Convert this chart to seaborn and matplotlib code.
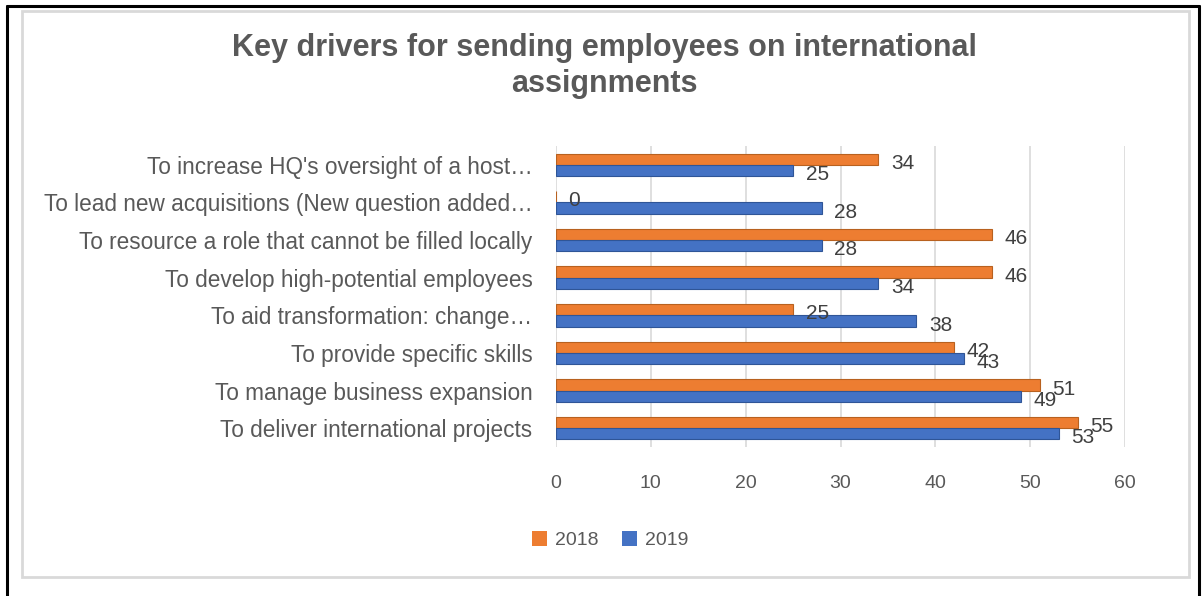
import matplotlib
matplotlib.use("Agg")
import matplotlib.pyplot as plt
import seaborn as sns
import pandas as pd
from matplotlib.patches import Rectangle, Patch
from matplotlib.lines import Line2D

categories = [
    "To increase HQ's oversight of a host\u2026",
    "To lead new acquisitions (New question added\u2026",
    "To resource a role that cannot be filled locally",
    "To develop high-potential employees",
    "To aid transformation: change\u2026",
    "To provide specific skills",
    "To manage business expansion",
    "To deliver international projects",
]
values_2018 = [34, 0, 46, 46, 25, 42, 51, 55]
values_2019 = [25, 28, 28, 34, 38, 43, 49, 53]
series = ["2018", "2019"]
x_ticks = [0, 10, 20, 30, 40, 50, 60]
title = "Key drivers for sending employees on international\nassignments"

df = pd.DataFrame({
    "category": categories * 2,
    "value": values_2018 + values_2019,
    "year": [series[0]] * len(categories) + [series[1]] * len(categories),
})

sns.set_theme(style="white")
plt.rcParams["font.family"] = ["Liberation Sans", "DejaVu Sans"]

colors = {"2018": "#ED7D31", "2019": "#4472C4"}
edges = {"2018": "#B8611F", "2019": "#2F5597"}
text_color = "#595959"

fig = plt.figure(figsize=(12.02, 5.96), dpi=100)
ax = fig.add_axes([556 / 1202, 1 - 447 / 596, (1125 - 556) / 1202, (447 - 146) / 596])

sns.barplot(data=df, x="value", y="category", hue="year", hue_order=series,
            palette=colors, order=categories, orient="h", width=0.6,
            ax=ax, legend=False, saturation=1)

for container, yr in zip(ax.containers, series):
    for bar in container:
        bar.set_edgecolor(edges[yr])
        bar.set_linewidth(0.8)
    anns = ax.bar_label(container, labels=[f"{v:g}" for v in container.datavalues],
                        padding=9, fontsize=15, color="#404040")
    for t in anns:
        t.xyann = (9, -3)

ax.set_xlim(0, 60)
ax.set_ylim(7.5, -0.5)
ax.set_xticks(x_ticks)
ax.set_xticklabels([str(v) for v in x_ticks])
ax.set_xlabel("")
ax.set_ylabel("")
ax.tick_params(axis="x", length=0, pad=20, labelsize=14, labelcolor=text_color)
ax.tick_params(axis="y", length=0, pad=17, labelsize=16.3, labelcolor=text_color)
ax.xaxis.grid(True, color="#D9D9D9", linewidth=1.2)
ax.set_axisbelow(True)
for s in ax.spines.values():
    s.set_visible(False)

fig.text(604 / 1202, 1 - 66 / 596, title, ha="center", va="center",
         fontsize=22, fontweight="bold", color=text_color, linespacing=1.3)

handles = [Patch(facecolor=colors[s], edgecolor="none") for s in series]
fig.legend(handles, series, loc="center", bbox_to_anchor=(610 / 1202, 1 - 540 / 596),
           ncol=2, frameon=False, fontsize=14, labelcolor=text_color,
           handlelength=0.8, handleheight=0.8, handletextpad=0.4, columnspacing=1.2)

# chart area border (light grey) and outer black frame
fig.patches.append(Rectangle((22 / 1202, 1 - 577 / 596), (1189 - 22) / 1202, (577 - 11) / 596,
                             transform=fig.transFigure, fill=False,
                             edgecolor="#D9D9D9", linewidth=2))
for xs, ys in [((7 / 1202, 7 / 1202), (0, 1 - 6 / 596)),
               ((7 / 1202, 1199 / 1202), (1 - 6 / 596, 1 - 6 / 596)),
               ((1199 / 1202, 1199 / 1202), (0, 1 - 6 / 596))]:
    fig.add_artist(Line2D(xs, ys, transform=fig.transFigure, color="black", linewidth=2.2))

fig.savefig("out.png", dpi=100)
